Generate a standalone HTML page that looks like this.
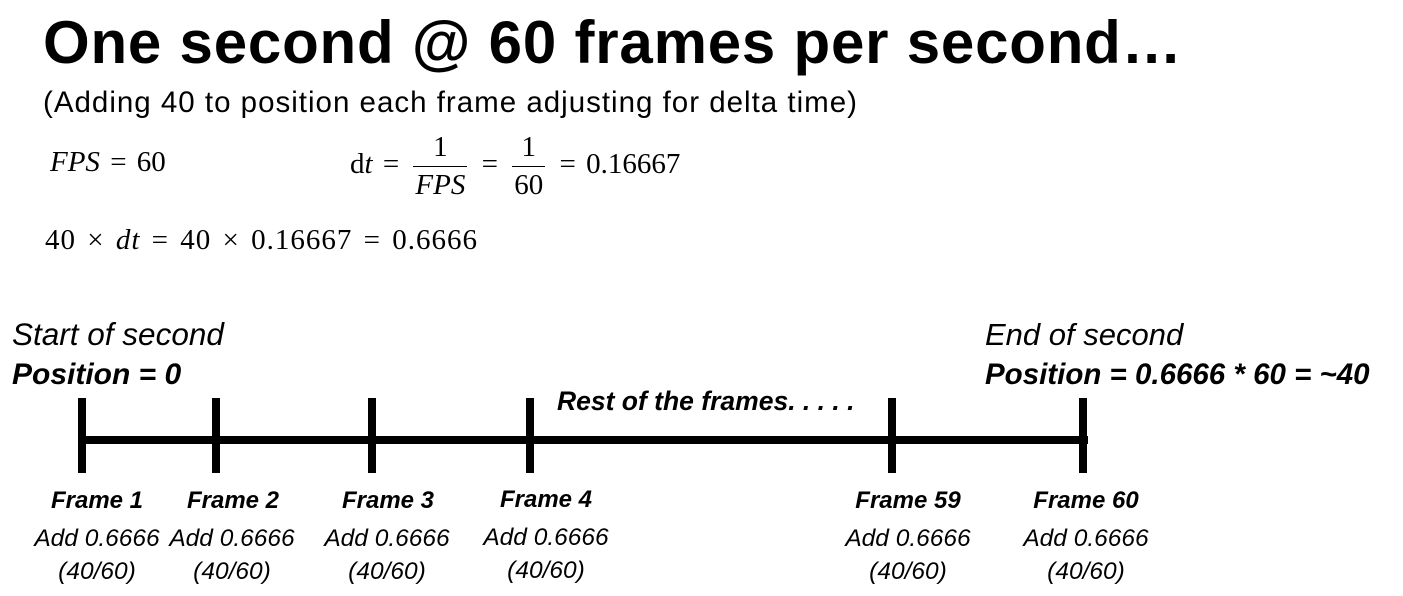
<!DOCTYPE html>
<html><head><meta charset="utf-8">
<style>
html,body{margin:0;padding:0;background:#fff;}
body{width:1403px;height:596px;position:relative;overflow:hidden;font-family:"Liberation Sans",sans-serif;color:#000;}
.a{position:absolute;white-space:nowrap;line-height:1;}
.m{font-family:"Liberation Serif",serif;font-size:29px;word-spacing:3px;}
.c{transform:translateX(-50%);text-align:center;}
.fr{font-weight:bold;font-style:italic;font-size:24px;}
.ad{font-style:italic;font-size:24.5px;}
.frac{display:inline-block;vertical-align:middle;text-align:center;margin:0 4px;}
.frac span{display:block;padding:0 2px;}
.frac .n{border-bottom:1.5px solid #000;padding-bottom:4px;}
.frac .d{padding-top:4px;}
</style></head><body>
<div class="a" style="left:43px;top:13px;font-size:60px;font-weight:bold;letter-spacing:0.8px;">One second @ 60 frames per second…</div>
<div class="a" style="left:43px;top:88px;font-size:29.5px;letter-spacing:1px;">(Adding 40 to position each frame adjusting for delta time)</div>
<div class="a m" style="left:50px;top:148px;"><i>FPS</i> = 60</div>
<div class="a m" style="left:350px;top:133px;">d<i>t</i> = <span class="frac"><span class="n">1</span><span class="d"><i>FPS</i></span></span> = <span class="frac"><span class="n">1</span><span class="d">60</span></span> = 0.16667</div>
<div class="a m" style="left:45px;top:226px;letter-spacing:1px;">40 × <i>dt</i> = 40 × 0.16667 = 0.6666</div>
<div class="a" style="left:12px;top:319px;font-size:31.5px;font-style:italic;">Start of second</div>
<div class="a" style="left:12px;top:360px;font-size:30px;font-style:italic;font-weight:bold;">Position = 0</div>
<div class="a" style="left:985px;top:319px;font-size:31px;font-style:italic;">End of second</div>
<div class="a" style="left:985px;top:360px;font-size:29.5px;font-style:italic;font-weight:bold;">Position = 0.6666 * 60 = ~40</div>
<div class="a" style="left:557px;top:388px;font-size:26.5px;font-style:italic;font-weight:bold;">Rest of the frames. . . . .</div>
<svg class="a" style="left:0;top:0;" width="1403" height="596">
<rect x="80" y="436" width="1008" height="8" fill="#000"/>
<rect x="78" y="398" width="8" height="75" fill="#000"/>
<rect x="212" y="398" width="8" height="75" fill="#000"/>
<rect x="368" y="398" width="8" height="75" fill="#000"/>
<rect x="526" y="398" width="8" height="75" fill="#000"/>
<rect x="888" y="398" width="8" height="75" fill="#000"/>
<rect x="1079" y="398" width="8" height="75" fill="#000"/>
</svg>
<div>
<div class="a c fr" style="left:97px;top:489px;">Frame 1</div>
<div class="a c ad" style="left:97px;top:527px;">Add 0.6666</div>
<div class="a c ad" style="left:97px;top:560px;">(40/60)</div></div>
<div>
<div class="a c fr" style="left:233px;top:489px;">Frame 2</div>
<div class="a c ad" style="left:232px;top:527px;">Add 0.6666</div>
<div class="a c ad" style="left:232px;top:560px;">(40/60)</div></div>
<div>
<div class="a c fr" style="left:388px;top:489px;">Frame 3</div>
<div class="a c ad" style="left:387px;top:527px;">Add 0.6666</div>
<div class="a c ad" style="left:387px;top:560px;">(40/60)</div></div>
<div>
<div class="a c fr" style="left:546px;top:488px;">Frame 4</div>
<div class="a c ad" style="left:546px;top:526px;">Add 0.6666</div>
<div class="a c ad" style="left:546px;top:559px;">(40/60)</div></div>
<div>
<div class="a c fr" style="left:908px;top:489px;">Frame 59</div>
<div class="a c ad" style="left:908px;top:527px;">Add 0.6666</div>
<div class="a c ad" style="left:908px;top:560px;">(40/60)</div></div>
<div>
<div class="a c fr" style="left:1086px;top:489px;">Frame 60</div>
<div class="a c ad" style="left:1086px;top:527px;">Add 0.6666</div>
<div class="a c ad" style="left:1086px;top:560px;">(40/60)</div></div>
</body></html>
